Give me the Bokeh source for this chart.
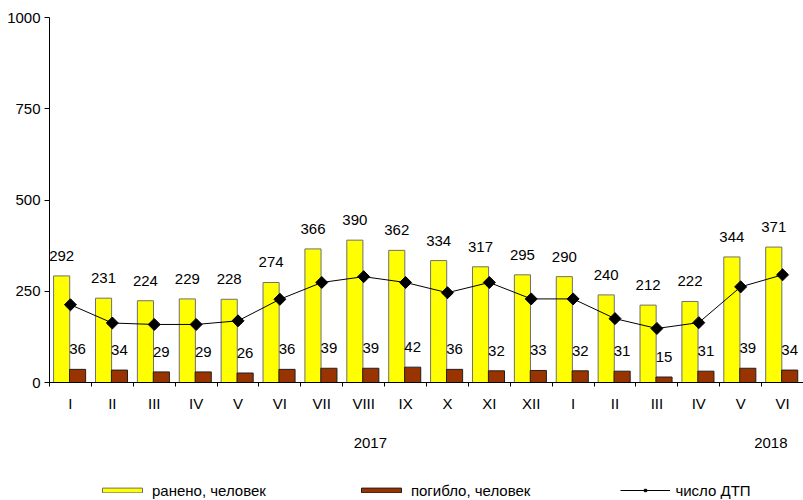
from bokeh.plotting import figure
from bokeh.layouts import column
from bokeh.models import (Range1d, FixedTicker, ColumnDataSource, Legend, LegendItem, LinearAxis)
from bokeh.core.properties import value
from bokeh.embed import file_html
from bokeh.resources import INLINE

months = ["I", "II", "III", "IV", "V", "VI", "VII", "VIII", "IX", "X", "XI", "XII",
          "I", "II", "III", "IV", "V", "VI"]
injured = [292, 231, 224, 229, 228, 274, 366, 390, 362, 334, 317, 295, 290, 240, 212, 222, 344, 371]
killed = [36, 34, 29, 29, 26, 36, 39, 39, 42, 36, 32, 33, 32, 31, 15, 31, 39, 34]
accidents = [213, 163, 159, 159, 169, 228, 274, 290, 274, 246, 274, 229, 229, 175, 148, 164, 262, 295]
years = ["2017", "2018"]
year_pos = [7.66, 17.22]
y_ticks = [0, 250, 500, 750, 1000]
series_names = ["ранено, человек", "погибло, человек", "число ДТП"]

FONT = "Liberation Sans"
YELLOW, BROWN = "#FFFF00", "#993300"
n = len(months)
centers = [i + 0.5 for i in range(n)]

src = ColumnDataSource(dict(
    xc=centers,
    xy=[c - 0.21 for c in centers],
    xb=[c + 0.17 for c in centers],
    injured=injured,
    killed=killed,
    acc=accidents,
    inj_txt=[str(v) for v in injured],
    kil_txt=[str(v) for v in killed],
))

p = figure(width=803, height=460, output_backend="svg", toolbar_location=None,
           x_range=Range1d(0, n), y_range=Range1d(0, 1000),
           min_border_left=49, min_border_right=0, min_border_top=17, min_border_bottom=78)
p.outline_line_color = None
p.xgrid.visible = False
p.ygrid.visible = False
p.background_fill_color = "white"
p.border_fill_color = "white"

p.vbar(x="xy", top="injured", width=0.385, bottom=0, source=src,
       fill_color=YELLOW, line_color="#707070", line_width=1)
p.vbar(x="xb", top="killed", width=0.385, bottom=0, source=src,
       fill_color=BROWN, line_color="#202020", line_width=1)
p.line(x="xc", y="acc", source=src, line_color="black", line_width=1)
p.scatter(x="xc", y="acc", source=src, marker="square", angle=0.785398, size=8.5,
          fill_color="black", line_color="black")

p.text(x="xy", y="injured", text="inj_txt", source=src, y_offset=-20,
       text_align="center", text_baseline="middle", text_font=value(FONT),
       text_font_size="15px", text_color="black")
p.text(x="xb", y="killed", text="kil_txt", source=src, y_offset=-20,
       text_align="center", text_baseline="middle", text_font=value(FONT),
       text_font_size="15px", text_color="black")

# month axis
xa = p.xaxis[0]
xa.ticker = FixedTicker(ticks=centers, minor_ticks=list(range(n + 1)))
xa.major_label_overrides = {c: m for c, m in zip(centers, months)}
xa.major_tick_out = 0
xa.major_tick_in = 0
xa.minor_tick_out = 4
xa.minor_tick_in = 0
xa.minor_tick_line_color = "black"
xa.axis_line_color = "black"
xa.major_label_standoff = 8
xa.major_label_text_font = FONT
xa.major_label_text_font_size = "15px"
xa.major_label_text_color = "black"

# year axis
yax = LinearAxis(ticker=FixedTicker(ticks=year_pos, minor_ticks=[]))
yax.major_label_overrides = {xp: yr for xp, yr in zip(year_pos, years)}
yax.axis_line_color = None
yax.major_tick_line_color = None
yax.minor_tick_line_color = None
yax.major_tick_out = 0
yax.major_tick_in = 0
yax.major_label_standoff = 23
yax.major_label_text_font = FONT
yax.major_label_text_font_size = "15px"
yax.major_label_text_color = "black"
p.add_layout(yax, "below")

ya = p.yaxis[0]
ya.ticker = FixedTicker(ticks=y_ticks)
ya.minor_tick_line_color = None
ya.major_tick_out = 5
ya.major_tick_in = 0
ya.major_tick_line_color = "black"
ya.axis_line_color = "black"
ya.major_label_standoff = 4
ya.major_label_text_font = FONT
ya.major_label_text_font_size = "15px"
ya.major_label_text_color = "black"

# legend strip: a small figure whose frame holds only the legend
lg = figure(width=803, height=40, output_backend="svg", toolbar_location=None,
            x_range=Range1d(0, 1), y_range=Range1d(0, 1),
            min_border_left=0, min_border_right=0, min_border_top=0, min_border_bottom=0)
lg.axis.visible = False
lg.xgrid.visible = False
lg.ygrid.visible = False
lg.outline_line_color = None
lg.background_fill_color = "white"
lg.border_fill_color = "white"
dummy = ColumnDataSource(dict(x=[-10, -9], y=[-10, -10], top=[-9, -9]))
d_inj = lg.vbar(x="x", top="top", bottom="y", width=0.5, source=dummy,
                fill_color=YELLOW, line_color="#707070", line_width=1)
d_kil = lg.vbar(x="x", top="top", bottom="y", width=0.5, source=dummy,
                fill_color=BROWN, line_color="#202020", line_width=1)
d_line = lg.line(x="x", y="y", source=dummy, line_color="black", line_width=1)
d_mark = lg.scatter(x="x", y="y", source=dummy, marker="square", angle=0.785398, size=5,
                    fill_color="black", line_color="black")
legend = Legend(items=[
    LegendItem(label=series_names[0], renderers=[d_inj]),
    LegendItem(label=series_names[1], renderers=[d_kil]),
    LegendItem(label=series_names[2], renderers=[d_line, d_mark]),
], orientation="horizontal", location=(48, 0))
legend.glyph_width = 50
legend.glyph_height = 6
legend.label_standoff = 5
legend.spacing = 90
legend.padding = 0
legend.margin = 0
legend.border_line_color = None
legend.background_fill_alpha = 0
legend.label_text_font = FONT
legend.label_text_font_size = "15px"
legend.label_text_color = "black"
legend.label_height = 20
lg.add_layout(legend, "center")

layout = column(p, lg, spacing=0)
open("out.html", "w").write(file_html(layout, INLINE))
